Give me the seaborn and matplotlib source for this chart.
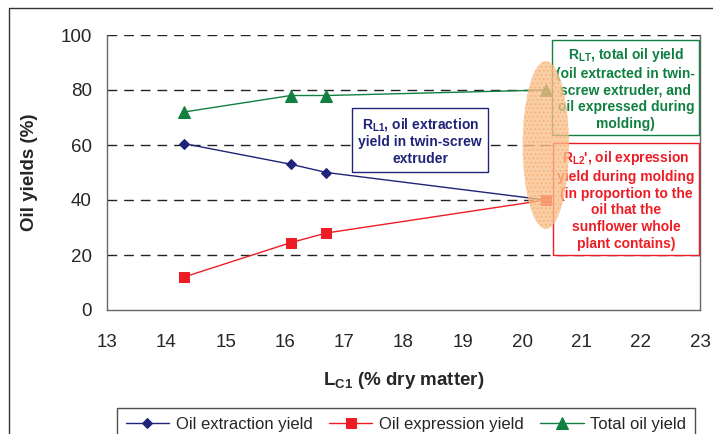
import matplotlib
matplotlib.use("Agg")
import matplotlib.pyplot as plt
from matplotlib.patches import Ellipse, Rectangle
import pandas as pd
import seaborn as sns

# data
lc1 = [14.3, 16.1, 16.7, 20.4]
extraction = [60.5, 53.0, 50.0, 40.0]
expression = [12.0, 24.5, 28.0, 40.0]
total = [72.0, 78.0, 78.0, 80.0]

series_names = ["Oil extraction yield", "Oil expression yield", "Total oil yield"]
x_ticks = list(range(13, 24))
y_ticks = list(range(0, 101, 20))

sns.set_style("white")
plt.rcParams['font.family'] = ['Liberation Sans', 'DejaVu Sans']
plt.rcParams['mathtext.fontset'] = 'custom'
plt.rcParams['mathtext.rm'] = 'Liberation Sans'
plt.rcParams['mathtext.bf'] = 'Liberation Sans:bold'

navy = '#1F2478'
red = '#EE1C25'
green = '#108040'

df = pd.DataFrame({"lc1": lc1, series_names[0]: extraction,
                   series_names[1]: expression, series_names[2]: total})

fig = plt.figure(figsize=(7.13, 4.34), dpi=100)
ax = fig.add_axes([107 / 713, 1 - 310 / 434, 593 / 713, 275 / 434])

styles = [(navy, 'D', 5.5), (red, 's', 7), (green, '^', 8)]
for name, (col, mk, ms) in zip(series_names, styles):
    sns.lineplot(data=df, x="lc1", y=name, ax=ax, color=col, marker=mk,
                 markersize=ms, markeredgecolor=col, linewidth=1,
                 label=name, zorder=3)

ax.set_xlim(13, 23)
ax.set_ylim(0, 100)
ax.set_xticks(x_ticks)
ax.set_yticks(y_ticks)
ax.tick_params(axis='x', direction='out', length=5, width=1, color='#666666',
               labelsize=13.5, pad=12)
ax.tick_params(axis='y', direction='inout', length=10, width=1, color='#666666',
               labelsize=13.5, pad=6)
ax.set_ylabel("Oil yields (%)", fontsize=13.5, fontweight='bold', labelpad=16)
ax.set_xlabel(r"L$_{\mathbf{C1}}$ (% dry matter)", fontsize=13.5,
              fontweight='bold', labelpad=14)

for y in y_ticks[1:]:
    ax.axhline(y, color='#222222', lw=1, linestyle=(0, (7, 5)), zorder=1)

for s in ['left', 'bottom', 'right']:
    ax.spines[s].set_color('#666666')
    ax.spines[s].set_linewidth(1)
ax.spines['top'].set_visible(False)

ax.get_legend().remove()

# annotation boxes
ax.text(18.28, 61.5, "R$_{\\mathbf{L1}}$, oil extraction\nyield in twin-screw\nextruder",
        color=navy, fontsize=10, fontweight='bold', ha='center', va='center',
        linespacing=1.25, zorder=4,
        bbox=dict(boxstyle='square,pad=0.45', fc='white', ec=navy, lw=1))
ax.text(21.75, 80.5, "R$_{\\mathbf{LT}}$, total oil yield\n(oil extracted in twin-\n"
        "screw extruder, and\noil expressed during\nmolding)",
        color=green, fontsize=10, fontweight='bold', ha='center', va='center',
        linespacing=1.25, zorder=4,
        bbox=dict(boxstyle='square,pad=0.3', fc='white', ec=green, lw=1))
ax.text(21.75, 40, "R$_{\\mathbf{L2}}$', oil expression\nyield during molding\n"
        "(in proportion to the\noil that the\nsunflower whole\nplant contains)",
        color=red, fontsize=10, fontweight='bold', ha='center', va='center',
        linespacing=1.25, zorder=4,
        bbox=dict(boxstyle='square,pad=0.3', fc='white', ec=red, lw=1))

ell = Ellipse((20.4, 60), width=0.78, height=61, facecolor='#F9C08A',
              edgecolor='#F6B070', alpha=0.75, hatch='....', lw=0, zorder=5)
ax.add_patch(ell)

# outer frame of the chart area
fig.patches.append(Rectangle((9 / 713, -0.2), 1.2, 1 - 8 / 434 + 0.2,
                             transform=fig.transFigure, fill=False,
                             ec='#333333', lw=1))

handles, labels = ax.get_legend_handles_labels()
fig.legend(handles, labels, loc='center', ncol=3,
           bbox_to_anchor=(406 / 713, 1 - 424 / 434), fontsize=12,
           frameon=True, fancybox=False, edgecolor='#222222',
           handlelength=2.6, handletextpad=0.4, columnspacing=1.0,
           borderpad=0.5, borderaxespad=0)

fig.savefig("out.png", dpi=100)
